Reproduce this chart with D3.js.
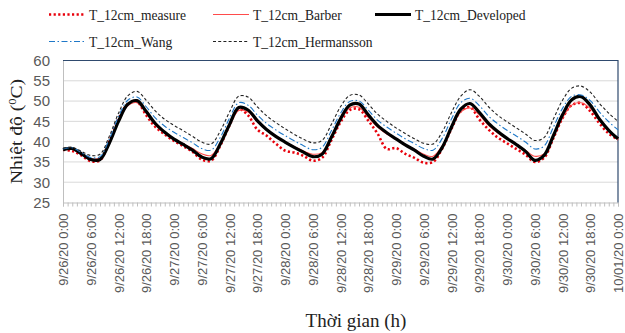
<!DOCTYPE html>
<html>
<head>
<meta charset="utf-8">
<script src="https://cdn.jsdelivr.net/npm/d3@7"></script>
<style>
  body { margin: 0; background: #fff; }
  svg { display: block; }
</style>
</head>
<body>
<div id="chart"></div>
<script>
// hours since 9/26/20 0:00, one reading every 2 hours
const hours = d3.range(0, 121, 2);

const tickLabels = [
  "9/26/20 0:00", "9/26/20 6:00", "9/26/20 12:00", "9/26/20 18:00",
  "9/27/20 0:00", "9/27/20 6:00", "9/27/20 12:00", "9/27/20 18:00",
  "9/28/20 0:00", "9/28/20 6:00", "9/28/20 12:00", "9/28/20 18:00",
  "9/29/20 0:00", "9/29/20 6:00", "9/29/20 12:00", "9/29/20 18:00",
  "9/30/20 0:00", "9/30/20 6:00", "9/30/20 12:00", "9/30/20 18:00",
  "10/01/20 0:00"
];

const measure = [
  38.0, 37.7, 36.6, 35.2, 35.4, 40.0, 45.6, 49.2, 49.8, 46.5, 43.6, 41.8,
  40.2, 38.9, 37.5, 35.6, 35.3, 39.0, 44.0, 48.0, 46.5, 43.0, 41.5, 39.5,
  37.8, 37.3, 36.5, 35.3, 36.0, 40.3, 44.8, 47.8, 48.0, 45.2, 42.0, 38.2,
  38.4, 37.0, 36.0, 34.8, 35.0, 38.3, 43.2, 47.5, 48.5, 45.5, 43.0, 41.0,
  39.6, 38.2, 36.8, 35.0, 36.0, 40.8, 45.8, 49.0, 49.5, 47.5, 44.5, 42.0,
  40.5
];
const barber = [
  38.0, 38.1, 36.9, 35.8, 36.0, 39.8, 45.0, 48.8, 49.6, 47.0, 44.0, 42.0,
  40.6, 39.5, 38.3, 37.0, 36.6, 39.5, 44.0, 47.7, 47.3, 44.9, 42.8, 41.2,
  39.9, 38.8, 37.7, 36.9, 37.3, 41.0, 45.3, 48.3, 48.5, 46.0, 43.6, 41.9,
  40.6, 39.3, 38.1, 36.9, 36.4, 39.0, 43.5, 47.3, 48.3, 46.6, 44.0, 42.1,
  40.6, 39.3, 37.9, 36.4, 37.0, 41.2, 45.8, 49.0, 49.6, 48.2, 45.3, 42.8,
  40.5
];
const developed = [
  38.0, 38.3, 37.0, 35.6, 35.6, 39.6, 45.0, 49.2, 50.1, 47.4, 44.4, 42.3,
  40.6, 39.3, 37.9, 36.2, 35.8, 39.4, 44.2, 48.4, 47.8, 45.2, 43.0, 41.3,
  39.9, 38.6, 37.4, 36.3, 36.9, 41.0, 45.6, 49.0, 49.3, 46.6, 44.0, 42.2,
  40.7, 39.2, 37.9, 36.4, 35.7, 38.6, 43.6, 48.0, 49.4, 47.2, 44.5, 42.5,
  40.8, 39.3, 37.6, 35.4, 36.6, 41.4, 46.6, 50.3, 51.1, 49.0, 45.5, 42.8,
  40.7
];
const wang = [
  38.2, 38.5, 37.3, 36.1, 36.3, 40.6, 46.2, 50.2, 51.0, 48.6, 45.8, 43.8,
  42.3, 41.0, 39.7, 38.3, 37.9, 41.0, 45.8, 49.6, 49.0, 46.6, 44.5, 42.9,
  41.5, 40.2, 39.0, 38.0, 38.6, 42.6, 47.0, 49.9, 50.0, 47.8, 45.3, 43.6,
  42.1, 40.7, 39.5, 38.3, 37.9, 40.8, 45.6, 49.6, 50.7, 48.9, 46.3, 44.4,
  42.8, 41.4, 39.9, 38.2, 38.9, 43.5, 48.2, 51.2, 51.5, 50.1, 47.3, 44.9,
  42.9
];
const hermansson = [
  38.4, 38.6, 37.6, 36.6, 36.9, 41.3, 47.0, 51.3, 52.4, 50.2, 47.5, 45.5,
  44.0, 42.7, 41.3, 39.9, 39.4, 42.6, 47.3, 51.2, 51.0, 48.6, 46.4, 44.7,
  43.2, 41.8, 40.6, 39.7, 40.3, 44.2, 48.6, 51.4, 51.5, 49.3, 46.8, 45.0,
  43.4, 42.0, 40.7, 39.6, 39.4, 42.4, 47.2, 51.2, 52.8, 51.2, 48.6, 46.5,
  44.9, 43.4, 41.9, 40.3, 41.0, 45.5, 50.2, 53.2, 53.7, 52.2, 49.4, 47.0,
  45.0
];

const yTicks = [25, 30, 35, 40, 45, 50, 55, 60];

const series = [
  { name: "T_12cm_measure", values: measure, color: "#e8000b", width: 2.6, dash: "2.2,2.4" },
  { name: "T_12cm_Barber", values: barber, color: "#ff4b4b", width: 1.1, dash: null },
  { name: "T_12cm_Developed", values: developed, color: "#000", width: 3.2, dash: null },
  { name: "T_12cm_Wang", values: wang, color: "#1f78c8", width: 1.1, dash: "6,2.5,1.5,2.5" },
  { name: "T_12cm_Hermansson", values: hermansson, color: "#222", width: 1.1, dash: "3,2.2" }
];

const W = 625, H = 333;
const margin = { top: 60.5, right: 7, bottom: 130.5, left: 63 };

const svg = d3.select("#chart").append("svg")
  .attr("width", W).attr("height", H)
  .style("font-family", "'Liberation Serif', 'Times New Roman', serif");

const x = d3.scaleLinear().domain([0, 120]).range([margin.left, W - margin.right]);
const y = d3.scaleLinear().domain([25, 60]).range([H - margin.bottom, margin.top]);

// gridlines
svg.append("g")
  .selectAll("line")
  .data(yTicks.filter(d => d > 25 && d < 60))
  .join("line")
  .attr("x1", x(0)).attr("x2", x(120))
  .attr("y1", d => y(d)).attr("y2", d => y(d))
  .attr("stroke", "#d9d9d9").attr("stroke-width", 1);

// y axis
const yAxis = svg.append("g")
  .attr("transform", `translate(${x(0)},0)`)
  .call(d3.axisLeft(y).tickValues(yTicks).tickSize(0).tickPadding(13));
yAxis.select(".domain").attr("stroke", "#bfbfbf");
yAxis.selectAll("text")
  .attr("fill", "#595959")
  .style("font-family", "'Liberation Sans', Arial, sans-serif")
  .style("font-size", "15px");

// x axis with hourly minor ticks
const xAxis = svg.append("g")
  .attr("transform", `translate(0,${y(25)})`)
  .call(d3.axisBottom(x).tickValues(d3.range(0, 121, 1)).tickSize(4).tickFormat(""));
xAxis.select(".domain").attr("stroke", "#bfbfbf");
xAxis.selectAll(".tick line").attr("stroke", "#bfbfbf");

svg.append("g")
  .selectAll("text")
  .data(tickLabels)
  .join("text")
  .attr("transform", (d, i) => `translate(${x(i * 6) + 5},${y(25) + 11}) rotate(-90)`)
  .attr("text-anchor", "end")
  .attr("fill", "#595959")
  .style("font-family", "'Liberation Sans', Arial, sans-serif")
  .style("font-size", "13px")
  .text(d => d);

// plot border top and right
svg.append("path")
  .attr("d", `M${x(0)},${y(60)}H${x(120)}V${y(25)}`)
  .attr("fill", "none")
  .attr("stroke", "#2f4a6e")
  .attr("stroke-width", 1.2);

// lines
const line = d3.line()
  .x((d, i) => x(hours[i]))
  .y(d => y(d))
  .curve(d3.curveCatmullRom.alpha(0.5));

svg.append("g")
  .selectAll("path")
  .data(series)
  .join("path")
  .attr("d", d => line(d.values))
  .attr("fill", "none")
  .attr("stroke", d => d.color)
  .attr("stroke-width", d => d.width)
  .attr("stroke-dasharray", d => d.dash)
  .attr("stroke-linejoin", "round");

// legend
const legendPos = [
  { x: 49, y: 14.5 }, { x: 213, y: 14.5 }, { x: 375, y: 14.5 },
  { x: 49, y: 41.5 }, { x: 213, y: 41.5 }
];
const legend = svg.append("g")
  .selectAll("g")
  .data(series)
  .join("g")
  .attr("transform", (d, i) => `translate(${legendPos[i].x},${legendPos[i].y})`);
legend.append("line")
  .attr("x1", 0).attr("x2", 36)
  .attr("stroke", d => d.color)
  .attr("stroke-width", d => d.width)
  .attr("stroke-dasharray", d => d.dash);
legend.append("text")
  .attr("transform", "translate(40,5) scale(0.875,1)")
  .style("font-size", "15.5px")
  .attr("fill", "#222")
  .text(d => d.name);

// axis titles
svg.append("text")
  .attr("transform", `translate(22,${(y(60) + y(25)) / 2}) rotate(-90) scale(1.15,1)`)
  .attr("text-anchor", "middle")
  .style("font-size", "17px")
  .attr("fill", "#222")
  .html("Nhiệt độ (<tspan dy='-6' font-size='11px'>0</tspan><tspan dy='6'>C)</tspan>");

svg.append("text")
  .attr("x", 356).attr("y", 327)
  .attr("text-anchor", "middle")
  .style("font-size", "19px")
  .attr("fill", "#222")
  .text("Thời gian (h)");
</script>
</body>
</html>
